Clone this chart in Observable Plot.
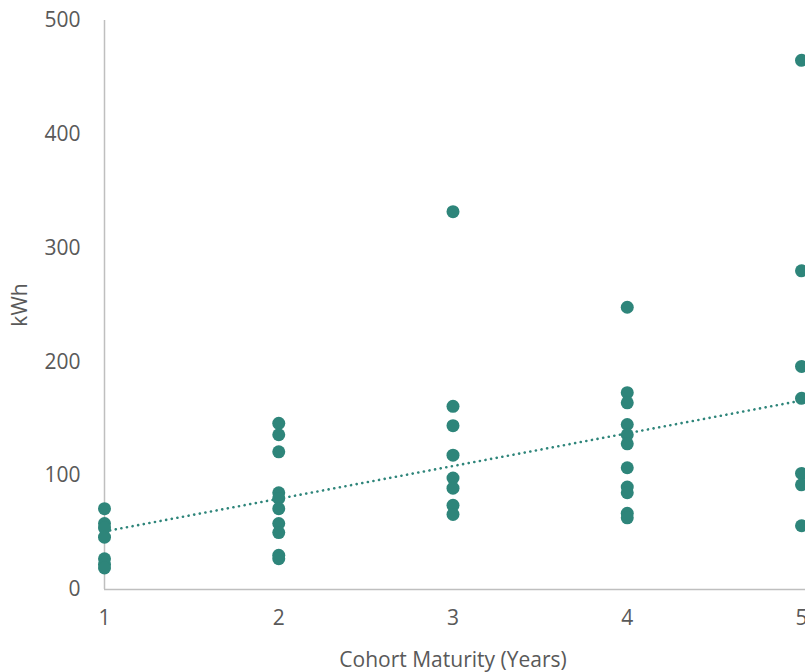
<!DOCTYPE html>
<html>
<head>
<meta charset="utf-8">
<script src="https://cdn.jsdelivr.net/npm/d3@7"></script>
<script src="https://cdn.jsdelivr.net/npm/@observablehq/plot@0.6"></script>
<style>
  html, body { margin: 0; padding: 0; background: #fff; overflow: hidden; }
  #chart { width: 805px; height: 672px; overflow: hidden; }
</style>
</head>
<body>
<div id="chart"></div>
<script>
// Cohort maturity (years) and kWh values
const year1 = [71, 58, 54, 46, 27, 22, 19];
const year2 = [146, 136, 121, 85, 80, 71, 58, 50, 30, 27];
const year3 = [332, 161, 144, 118, 98, 89, 74, 66];
const year4 = [248, 173, 164, 145, 136, 128, 107, 90, 85, 67, 63];
const year5 = [465, 280, 196, 168, 102, 92, 56];
const xTicks = [1, 2, 3, 4, 5];
const yTicks = [0, 100, 200, 300, 400, 500];
// Dotted trend line endpoints
const trendX = [1, 5];
const trendY = [51, 166];

const groups = [year1, year2, year3, year4, year5];
const points = groups.flatMap((vals, i) => vals.map(v => ({x: xTicks[i], y: v})));
const trend = trendX.map((x, i) => ({x, y: trendY[i]}));

const teal = "#2e857a";
const textColor = "#595959";
const axisColor = "#bfbfbf";
const font = "'Open Sans', 'Noto Sans', sans-serif";

const chart = Plot.plot({
  width: 805,
  height: 672,
  marginTop: 20,
  marginBottom: 83,
  marginLeft: 104,
  marginRight: 4,
  style: {fontFamily: font, fontSize: "21px", color: textColor, background: "#fff", overflow: "visible"},
  x: {domain: [1, 5]},
  y: {domain: [0, 500]},
  marks: [
    Plot.ruleX([1], {stroke: axisColor, strokeWidth: 1.5}),
    Plot.ruleY([0], {stroke: axisColor, strokeWidth: 1.5, x1: 1, x2: 5.03}),
    Plot.axisX({ticks: xTicks, tickFormat: d => String(d), tickSize: 0, tickPadding: 21, fill: textColor, fontSize: 21,
      label: "Cohort Maturity (Years)", labelAnchor: "center", labelArrow: "none", labelOffset: 77}),
    Plot.axisY({ticks: yTicks, tickFormat: d => String(d), tickSize: 0, tickPadding: 24, fill: textColor, fontSize: 21,
      label: "kWh", labelAnchor: "center", labelArrow: "none", labelOffset: 92}),
    Plot.line(trend, {x: "x", y: "y", stroke: teal, strokeWidth: 2.6,
      strokeDasharray: "0.1,5.6", strokeLinecap: "round"}),
    Plot.dot(points, {x: "x", y: "y", r: 6.5, fill: teal, stroke: "none"})
  ]
});
document.getElementById("chart").appendChild(chart);
</script>
</body>
</html>
